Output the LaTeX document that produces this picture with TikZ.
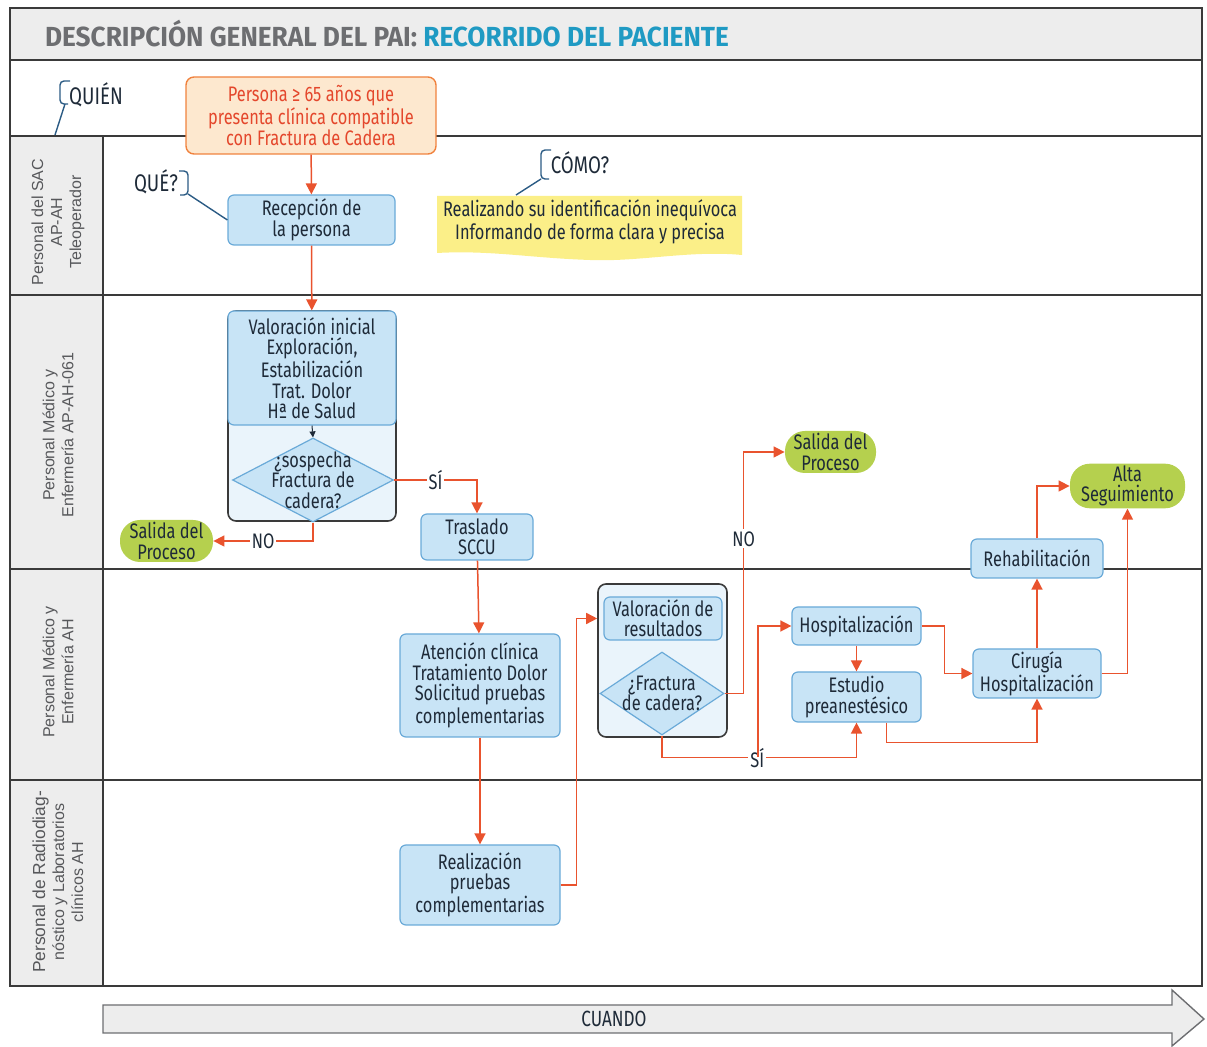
\documentclass[tikz,border=0pt]{standalone}
\usepackage{fontspec}
\setmainfont{Fira Sans}[FakeStretch=0.78]
\newfontfamily\titfont{Fira Sans}[FakeStretch=0.95]
\newfontfamily\lanefont{Liberation Sans}
\usepackage{tikz}
\usetikzlibrary{shapes.geometric,arrows.meta}

\definecolor{marco}{HTML}{3A3A3A}
\definecolor{gristit}{HTML}{6D6E71}
\definecolor{turquesa}{HTML}{1F9AC3}
\definecolor{fondogris}{HTML}{EDEDED}
\definecolor{cajaazul}{HTML}{C8E4F6}
\definecolor{bordeazul}{HTML}{6AAAD8}
\definecolor{grupoazul}{HTML}{EAF4FB}
\definecolor{flecha}{HTML}{E9532E}
\definecolor{verde}{HTML}{B5D04E}
\definecolor{melocoton}{HTML}{FDE8CF}
\definecolor{naranja}{HTML}{F0823E}
\definecolor{rojotxt}{HTML}{E4472C}
\definecolor{amarillo}{HTML}{FBEF88}
\definecolor{azulnota}{HTML}{2B5B84}
\definecolor{txt}{HTML}{1E2A38}

\begin{document}
\begin{tikzpicture}[x=0.5pt,y=-0.5pt,font=\fontsize{10.5}{10.2}\selectfont]
            \tikzstyle{task}=[rectangle,rounded corners=3pt,draw=bordeazul,fill=cajaazul,line width=0.6pt,text=txt,align=center,inner sep=1pt]
            \tikzstyle{grupo}=[rectangle,rounded corners=4pt,draw=marco,fill=grupoazul,line width=0.8pt]
            \tikzstyle{decision}=[diamond,draw=bordeazul,fill=cajaazul,line width=0.6pt,inner sep=0pt]
            \tikzstyle{salida}=[rectangle,rounded corners=10pt,fill=verde,text=txt,align=center,inner sep=1pt]
            \tikzstyle{flow}=[draw=flecha,line width=0.75pt,-{Triangle[length=5.5pt,width=5.5pt]}]
            \tikzstyle{lbl}=[fill=white,inner sep=1pt,text=txt]
            \tikzstyle{lane}=[rotate=90,align=center,text=gristit!80!black,font=\lanefont\fontsize{8}{9.5}\selectfont]
            \tikzstyle{pregunta}=[text=txt,font=\fontsize{12}{13}\selectfont]
            \tikzstyle{callout}=[draw=azulnota,line width=0.7pt,rounded corners=2pt]
            \useasboundingbox (0,0) rectangle (1207,1047);

            % frame, title bar and lanes
            \fill[fondogris] (10,8) rectangle (1202,60);
            \fill[fondogris] (10,136) rectangle (103,986);
            \draw[marco,line width=0.8pt] (10,8) rectangle (1202,986);
            \foreach \y in {60,136,295,569,780}
                \draw[marco,line width=0.8pt] (10,\y) -- (1202,\y);
            \draw[marco,line width=0.8pt] (103,136) -- (103,986);
            \node[anchor=west] (titulo) at (38,34) {\titfont\fontsize{13.8}{15}\selectfont\bfseries\color{gristit}DESCRIPCIÓN GENERAL DEL PAI: \color{turquesa}RECORRIDO DEL PACIENTE};

            \foreach \yc/\txt in {222/{Personal del SAC\\AP-AH\\Teleoperador}, 435/{Personal Médico y\\Enfermería AP-AH-061}, 672/{Personal Médico y\\Enfermería AH}, 882/{\fontsize{8.7}{10.3}\selectfont Personal de Radiodiag-\\nóstico y Laboratorios\\clínicos AH}}
                \node[lane] (L-\yc) at (58,\yc) {\txt};

            % callouts
            \node[pregunta] (quien) at (96,95) {QUIÉN};
            \draw[callout] (70,81) -- (60,81) -- (60,104) -- (68,104);
            \draw[callout] (65,104) -- (55,135);
            \node[pregunta] (que) at (156,182) {QUÉ?};
            \draw[callout] (179,171) -- (188,171) -- (188,195) -- (180,195);
            \node[pregunta] (como) at (580,163) {CÓMO?};
            \draw[callout] (551,150) -- (541,150) -- (541,179) -- (549,179);

            % yellow note
            \fill[amarillo] (437,196) -- (742,196) -- (742,255) .. controls (690,250) and (640,262) .. (590,260) .. controls (530,258) and (490,250) .. (437,253) -- cycle;
            \node[text=txt,align=center] (nota) at (590,222) {Realizando su identificación inequívoca\\Informando de forma clara y precisa};
            \draw[callout] (541,179) -- (516,195);

            % nodes
            \node[rectangle,rounded corners=4pt,draw=naranja,fill=melocoton,line width=0.7pt,text=rojotxt,align=center,minimum width=125pt,minimum height=38.5pt] (persona) at (311,115.5) {Persona ≥ 65 años que\\presenta clínica compatible\\con Fractura de Cadera};
            \node[task,minimum width=83.5pt,minimum height=25pt] (recep) at (311.5,220) {Recepción de\\la persona};
            \draw[callout] (188,194) -- (recep.west);

            \node[grupo,minimum width=84pt,minimum height=105pt] (grupo1) at (312,416) {};
            \node[task,minimum width=84pt,minimum height=57pt] (valor) at (312,368) {Valoración inicial\\Exploración,\\Estabilización\\Trat. Dolor\\Hª de Salud};
            \node[decision,minimum width=80.5pt,minimum height=42pt,label={[align=center,text=txt]center:{¿sospecha\\Fractura de\\cadera?}}] (sosp) at (313,480) {};
            \node[salida,minimum width=46.5pt,minimum height=21pt] (salida1) at (166.5,541) {Salida del\\Proceso};
            \node[task,minimum width=56pt,minimum height=23pt] (traslado) at (477,537) {Traslado\\SCCU};
            \node[task,minimum width=80pt,minimum height=51.5pt] (atencion) at (480,685.5) {Atención clínica\\Tratamiento Dolor\\Solicitud pruebas\\complementarias};
            \node[task,minimum width=80pt,minimum height=40pt] (realiz) at (480,885) {Realización\\pruebas\\complementarias};

            \node[grupo,minimum width=64.5pt,minimum height=76.5pt] (grupo2) at (662.5,660.5) {};
            \node[task,minimum width=59pt,minimum height=21.5pt] (valres) at (663,618.5) {Valoración de\\resultados};
            \node[decision,minimum width=62pt,minimum height=41.5pt,label={[align=center,text=txt]center:{¿Fractura\\de cadera?}}] (frac) at (662,693.5) {};
            \node[salida,minimum width=45.5pt,minimum height=21pt] (salida2) at (830.5,452) {Salida del\\Proceso};

            \node[task,minimum width=64.5pt,minimum height=19pt] (hosp) at (856.5,626) {Hospitalización};
            \node[task,minimum width=64.5pt,minimum height=25pt] (estudio) at (856.5,697) {Estudio\\preanestésico};
            \node[task,minimum width=64pt,minimum height=24.5pt] (cirugia) at (1037,673.5) {Cirugía\\Hospitalización};
            \node[task,minimum width=66pt,minimum height=19.5pt] (rehab) at (1037,558.5) {Rehabilitación};
            \node[salida,minimum width=57.5pt,minimum height=22pt] (alta) at (1127.5,486) {Alta\\Seguimiento};

            % connectors
            \draw[flow] (persona) -- (recep);
            \draw[flow] (recep) -- (valor);
            \draw[-{Triangle[length=3pt,width=3pt]},line width=0.5pt,txt] (valor.south) -- (sosp.north);
            \draw[flow] (sosp.east) -| node[lbl,pos=0.25] {SÍ} (traslado.north);
            \draw[flow] (sosp.south) |- node[lbl,pos=0.75] {NO} (salida1.east);
            \draw[flow] (traslado) -- (atencion);
            \draw[flow] (atencion) -- (realiz);
            \draw[flow] (realiz.east) -- ++(16,0) |- (grupo2.west |- valres.west);
            \draw[flow] (frac.east) -- ++(19,0) |- node[lbl,pos=0.32] {NO} (salida2.west);
            \draw[flow] (frac.south) -- ++(0,22) -| node[lbl,pos=0.245] {SÍ} (estudio.south);
            \coordinate (cruce) at (758,757);
            \draw[flow] (cruce) |- (hosp.west);
            \draw[flow] (hosp) -- (estudio);
            \draw[flow] (hosp.east) -- ++(23,0) |- (cirugia.west);
            \draw[flow] ([xshift=15pt]estudio.south) -- ++(0,20) -| (cirugia.south);
            \draw[flow] (cirugia) -- (rehab);
            \draw[flow] (rehab.north) |- (alta.west);
            \draw[flow] (cirugia.east) -| (alta.south);

            % time arrow
            \draw[fill=fondogris,draw=gristit,line width=0.7pt] (103,1005) -- (1172,1005) -- (1172,990) -- (1204,1019) -- (1172,1046) -- (1172,1033) -- (103,1033) -- cycle;
            \node[text=txt,font=\fontsize{11}{12}\selectfont] (cuando) at (614,1019) {CUANDO};
        \end{tikzpicture}
\end{document}
